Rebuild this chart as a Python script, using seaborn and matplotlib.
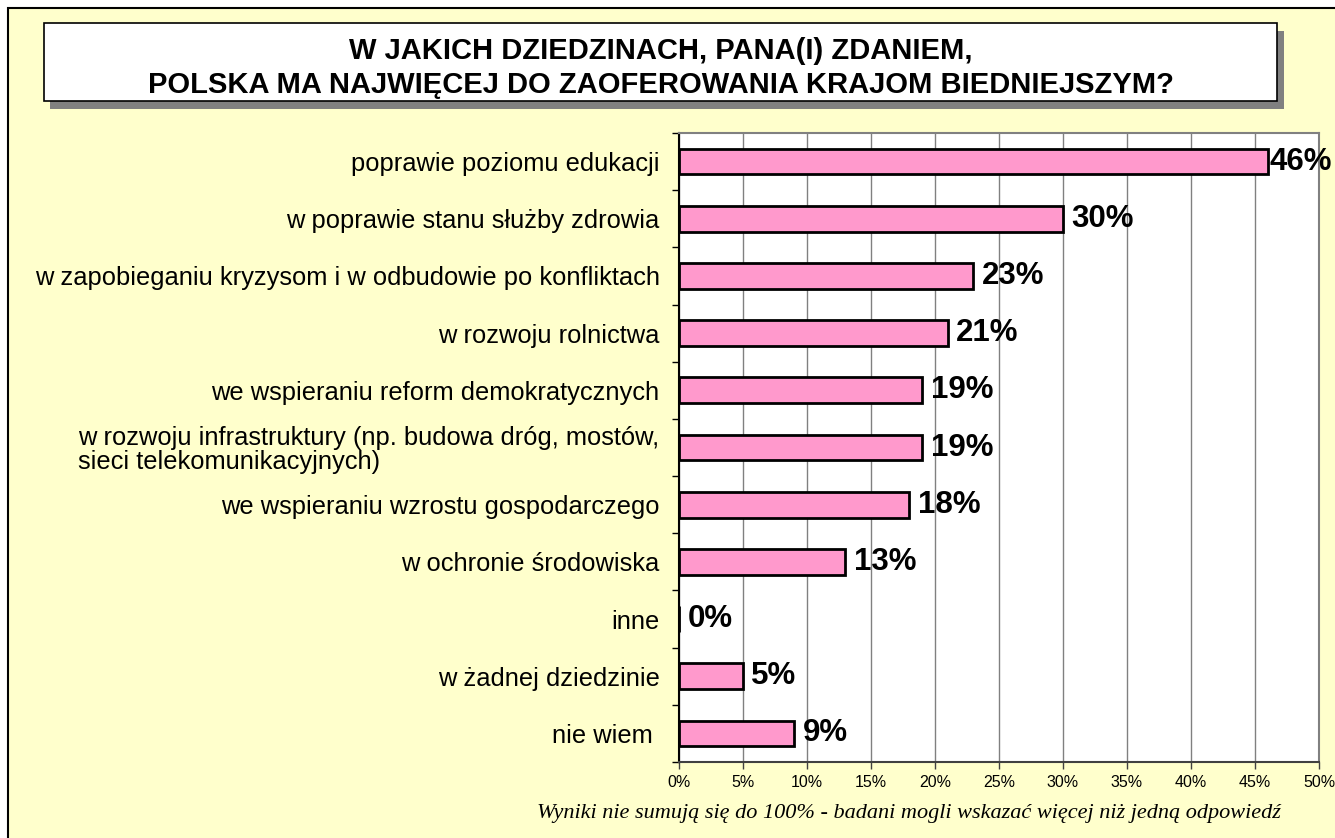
import matplotlib
matplotlib.use("Agg")
import matplotlib.pyplot as plt
from matplotlib.patches import Rectangle
from matplotlib.ticker import FuncFormatter, FixedLocator
import seaborn as sns

title = "W JAKICH DZIEDZINACH, PANA(I) ZDANIEM,\nPOLSKA MA NAJWIĘCEJ DO ZAOFEROWANIA KRAJOM BIEDNIEJSZYM?"
footnote = "Wyniki nie sumują się do 100% - badani mogli wskazać więcej niż jedną odpowiedź"

categories = [
    "poprawie poziomu edukacji",
    "w poprawie stanu służby zdrowia",
    "w zapobieganiu kryzysom i w odbudowie po konfliktach",
    "w rozwoju rolnictwa",
    "we wspieraniu reform demokratycznych",
    "w rozwoju infrastruktury (np. budowa dróg, mostów,\nsieci telekomunikacyjnych)",
    "we wspieraniu wzrostu gospodarczego",
    "w ochronie środowiska",
    "inne",
    "w żadnej dziedzinie",
    "nie wiem ",
]
values = [46, 30, 23, 21, 19, 19, 18, 13, 0, 5, 9]
x_ticks = [0, 5, 10, 15, 20, 25, 30, 35, 40, 45, 50]

sns.set_style("white")
plt.rcParams["font.family"] = ["Liberation Sans", "DejaVu Sans"]
plt.rcParams["text.color"] = "black"
plt.rcParams["xtick.color"] = "black"
plt.rcParams["ytick.color"] = "black"

bg = "#FFFFCC"
fig = plt.figure(figsize=(13.35, 8.38), dpi=100)
fig.patch.set_facecolor("white")
W, H = 1335, 838

def px(x, y, w, h):
    return (x / W, 1 - (y + h) / H, w / W, h / H)

# outer frame
x0, y0, w0, h0 = px(8, 8, 1340, 840)
fig.patches.append(Rectangle((x0, y0), w0, h0, transform=fig.transFigure,
                             facecolor=bg, edgecolor="black", lw=1.5, zorder=-2))

# title box with shadow
sx, sy, sw, sh = px(50, 31, 1234, 78)
fig.patches.append(Rectangle((sx, sy), sw, sh, transform=fig.transFigure,
                             facecolor="#808080", edgecolor="none", zorder=-1))
tx, ty, tw, th = px(44, 23, 1233, 78)
fig.patches.append(Rectangle((tx, ty), tw, th, transform=fig.transFigure,
                             facecolor="white", edgecolor="black", lw=1.2, zorder=-1))
fig.text(tx + tw / 2, 1 - 68 / H, title, ha="center", va="center",
         fontsize=21, fontweight="bold", linespacing=1.3, zorder=3)

ax = fig.add_axes([679 / W, 1 - 762 / H, (1319 - 679) / W, (762 - 133) / H])
ax.set_zorder(5)
ax.set_facecolor("white")

sns.barplot(x=values, y=categories, orient="h", color="#FF99CC",
            edgecolor="black", linewidth=2, width=0.45, saturation=1, ax=ax)

ax.set_xlim(0, 50)
ax.set_ylim(len(categories) - 0.5, -0.5)
ax.xaxis.set_major_locator(FixedLocator(x_ticks))
ax.xaxis.set_major_formatter(FuncFormatter(lambda v, p: f"{v:.0f}%"))
ax.grid(axis="x", color="#808080", lw=1)
ax.set_axisbelow(True)
ax.set_xlabel("")
ax.set_ylabel("")

ax.tick_params(axis="x", which="major", length=5, width=1, color="#404040",
               labelsize=11.5, pad=4, bottom=True, direction="out")
ax.tick_params(axis="y", which="major", length=0, pad=14, labelsize=18.4)
ax.yaxis.set_minor_locator(FixedLocator([i + 0.5 for i in range(-1, len(categories))]))
ax.tick_params(axis="y", which="minor", length=5, width=1, color="black", left=True)
for lab in ax.get_yticklabels():
    lab.set_multialignment("left")
    lab.set_linespacing(1.0)

for side in ["top", "right"]:
    ax.spines[side].set_color("#808080")
    ax.spines[side].set_linewidth(1.5)
ax.spines["left"].set_color("black")
ax.spines["left"].set_linewidth(1.5)
ax.spines["bottom"].set_color("#404040")
ax.spines["bottom"].set_linewidth(1.5)

vmax = max(values)
for i, v in enumerate(values):
    off = 1.5 if v == vmax else 6
    ax.annotate(f"{v}%", (v, i), xytext=(off, 0), textcoords="offset points",
                ha="left", va="center", fontsize=22.5, fontweight="bold",
                annotation_clip=False)

fig.text(1281 / W, 1 - 813 / H, footnote, ha="right", va="center",
         fontsize=16, style="italic", family=["Liberation Serif", "DejaVu Serif"])

fig.savefig("out.png", dpi=100, facecolor=fig.get_facecolor())
